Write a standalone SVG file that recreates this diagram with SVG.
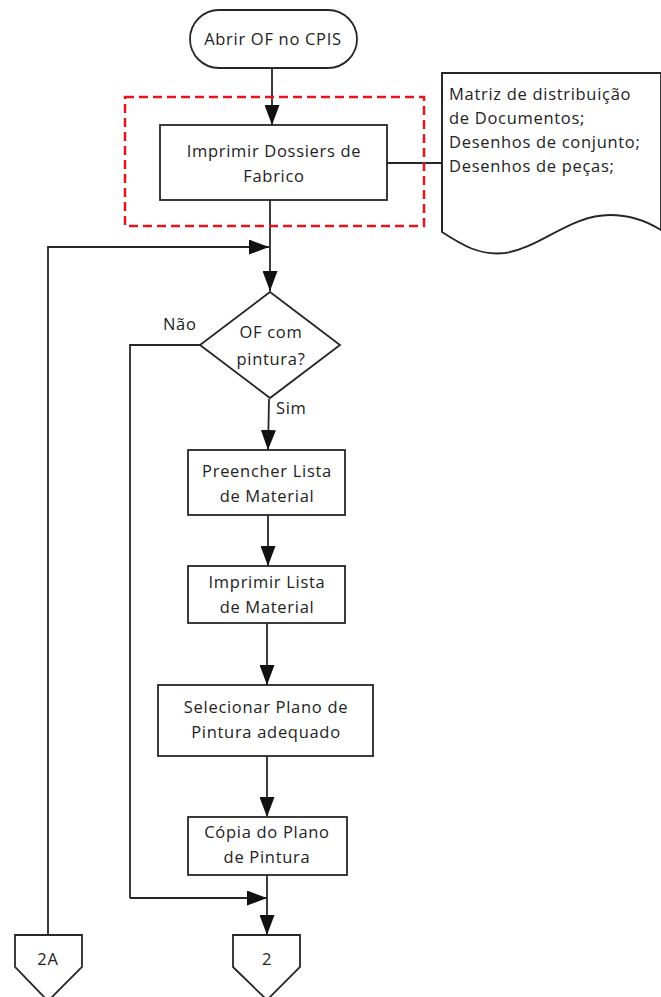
<svg xmlns="http://www.w3.org/2000/svg" width="661" height="997" viewBox="0 0 661 997">
  <style>
    .shape { fill: #ffffff; stroke: #262626; stroke-width: 1.8; }
    .line { fill: none; stroke: #262626; stroke-width: 1.8; }
    .arrow { marker-end: url(#head); }
    .txt { font-family: "Open Sans", "Liberation Sans", sans-serif; font-size: 16.5px; letter-spacing: 0.7px; fill: #222222; }
    .mid { text-anchor: middle; }
    .focus { fill: none; stroke: #e8141b; stroke-width: 2.5; stroke-dasharray: 9 5; }
  </style>
  <defs>
    <marker id="head" markerUnits="userSpaceOnUse" markerWidth="20" markerHeight="15" refX="20" refY="7.5" orient="auto">
      <path d="M0,0 L20,7.5 L0,15 z" fill="#111111"/>
    </marker>
  </defs>

  <rect width="661" height="997" fill="#ffffff"/>

  <!-- connectors -->
  <g id="connectors">
    <line class="line arrow" x1="272" y1="68" x2="272" y2="125"/>
    <line class="line" x1="387" y1="163" x2="442" y2="163"/>
    <line class="line arrow" x1="270" y1="200" x2="270" y2="291"/>
    <polyline class="line arrow" points="48,935 48,247 269,247"/>
    <polyline class="line" points="200,345 130,345 130,898"/>
    <line class="line arrow" x1="130" y1="898" x2="267" y2="898"/>
    <line class="line arrow" x1="269" y1="399" x2="268" y2="450"/>
    <line class="line arrow" x1="268" y1="515" x2="268" y2="566"/>
    <line class="line arrow" x1="267" y1="623" x2="267" y2="685"/>
    <line class="line arrow" x1="267" y1="756" x2="267" y2="817"/>
    <line class="line arrow" x1="267" y1="875" x2="267" y2="935"/>
  </g>

  <!-- highlighted step -->
  <rect class="focus" x="125" y="97" width="299" height="129"/>

  <g id="start">
    <rect class="shape" x="190" y="10" width="167" height="58" rx="29" ry="29"/>
    <text class="txt mid" x="273" y="45">Abrir OF no CPIS</text>
  </g>

  <g id="print-dossiers">
    <rect class="shape" x="160" y="125" width="227" height="75"/>
    <text class="txt mid" x="274" y="157">Imprimir Dossiers de</text>
    <text class="txt mid" x="274" y="182">Fabrico</text>
  </g>

  <g id="documents">
    <path class="shape" d="M442,73 L661,73 L661,230 C645,220 630,215 610,215 C570,215 540,248 505,253 C480,256 462,245 442,232 Z"/>
    <path class="line" d="M661,73 L442,73 L442,232"/>
    <text class="txt" x="449" y="100">Matriz de distribuição</text>
    <text class="txt" x="449" y="124">de Documentos;</text>
    <text class="txt" x="449" y="148">Desenhos de conjunto;</text>
    <text class="txt" x="449" y="172">Desenhos de peças;</text>
  </g>

  <g id="decision">
    <polygon class="shape" points="270,292 340,345 270,398 200,345"/>
    <text class="txt mid" x="271" y="338">OF com</text>
    <text class="txt mid" x="271" y="365">pintura?</text>
    <text class="txt" x="163" y="330">Não</text>
    <text class="txt" x="276" y="414">Sim</text>
  </g>

  <g id="fill-list">
    <rect class="shape" x="188" y="450" width="157" height="65"/>
    <text class="txt mid" x="267" y="477">Preencher Lista</text>
    <text class="txt mid" x="267" y="502">de Material</text>
  </g>

  <g id="print-list">
    <rect class="shape" x="188" y="566" width="157" height="57"/>
    <text class="txt mid" x="267" y="588">Imprimir Lista</text>
    <text class="txt mid" x="267" y="613">de Material</text>
  </g>

  <g id="select-plan">
    <rect class="shape" x="158" y="685" width="215" height="71"/>
    <text class="txt mid" x="266" y="713">Selecionar Plano de</text>
    <text class="txt mid" x="266" y="738">Pintura adequado</text>
  </g>

  <g id="copy-plan">
    <rect class="shape" x="188" y="817" width="159" height="58"/>
    <text class="txt mid" x="267" y="838">Cópia do Plano</text>
    <text class="txt mid" x="267" y="863">de Pintura</text>
  </g>

  <g id="offpage-2A">
    <polygon class="shape" points="15,935 82,935 82,967 48,1001 15,967"/>
    <text class="txt mid" x="48" y="965">2A</text>
  </g>

  <g id="offpage-2">
    <polygon class="shape" points="233,935 300,935 300,967 267,1000 233,967"/>
    <text class="txt mid" x="267" y="965">2</text>
  </g>
</svg>
